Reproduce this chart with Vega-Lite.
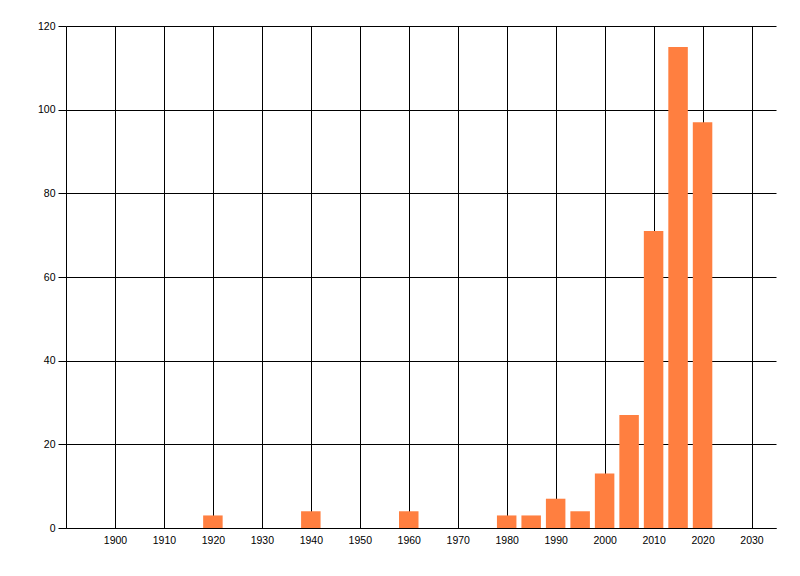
{
  "$schema": "https://vega.github.io/schema/vega-lite/v6.json",
  "width": 710,
  "height": 502,
  "autosize": "none",
  "padding": {"left": 66, "top": 26, "right": 24, "bottom": 48},
  "background": "white",
  "config": {
    "view": {"stroke": null},
    "font": "Liberation Sans"
  },
  "data": {
    "values": [
      {"year": 1920, "count": 3},
      {"year": 1940, "count": 4},
      {"year": 1960, "count": 4},
      {"year": 1980, "count": 3},
      {"year": 1985, "count": 3},
      {"year": 1990, "count": 7},
      {"year": 1995, "count": 4},
      {"year": 2000, "count": 13},
      {"year": 2005, "count": 27},
      {"year": 2010, "count": 71},
      {"year": 2015, "count": 115},
      {"year": 2020, "count": 97}
    ]
  },
  "mark": {"type": "bar", "size": 19.5, "color": "#FF7F40"},
  "encoding": {
    "x": {
      "field": "year",
      "type": "quantitative",
      "scale": {"domain": [1890, 2035], "nice": false, "zero": false, "padding": 0},
      "axis": {
        "title": null,
        "values": [1900, 1910, 1920, 1930, 1940, 1950, 1960, 1970, 1980, 1990, 2000, 2010, 2020, 2030],
        "format": "d",
        "grid": true,
        "gridColor": "black",
        "gridOpacity": 1,
        "gridWidth": 1,
        "ticks": false,
        "domainColor": "black",
        "domainWidth": 1,
        "labelColor": "black",
        "labelFontSize": 10.5,
        "labelPadding": 7,
        "labelFlush": false
      }
    },
    "y": {
      "field": "count",
      "type": "quantitative",
      "scale": {"domain": [0, 120], "nice": false},
      "axis": {
        "title": null,
        "values": [0, 20, 40, 60, 80, 100, 120],
        "grid": true,
        "gridColor": "black",
        "gridOpacity": 1,
        "gridWidth": 1,
        "tickColor": "black",
        "tickSize": 8,
        "tickWidth": 1,
        "domainColor": "black",
        "domainWidth": 1,
        "labelColor": "black",
        "labelFontSize": 10.5,
        "labelPadding": 3
      }
    }
  }
}
